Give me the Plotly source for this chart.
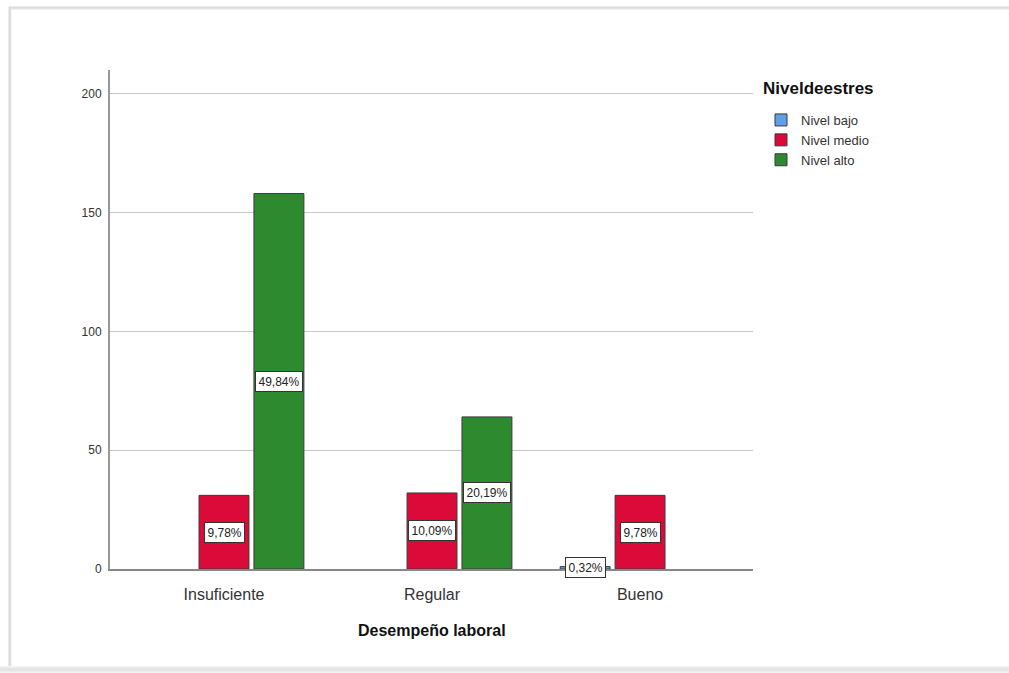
import plotly.graph_objects as go

categories = ["Insuficiente", "Regular", "Bueno"]
series_names = ["Nivel bajo", "Nivel medio", "Nivel alto"]
counts = {
    "Nivel bajo": [0, 0, 1],
    "Nivel medio": [31, 32, 31],
    "Nivel alto": [158, 64, 0],
}
pct_labels = {
    "Nivel bajo": ["", "", "0,32%"],
    "Nivel medio": ["9,78%", "10,09%", "9,78%"],
    "Nivel alto": ["49,84%", "20,19%", ""],
}
colors = {"Nivel bajo": "#5e9fe6", "Nivel medio": "#db0a38", "Nivel alto": "#2e8a2e"}
y_ticks = [0, 50, 100, 150, 200]

W, H = 1009, 673
ML, MR, MT, MB = 110, 256, 70, 104
PW, PH = W - ML - MR, H - MT - MB

offsets = [-0.264, 0.0, 0.264]
bar_w = 0.24

fig = go.Figure()
annotations = []
for si, name in enumerate(series_names):
    xs = [i + offsets[si] for i in range(len(categories))]
    ys = [v if v else None for v in counts[name]]
    fig.add_trace(go.Bar(
        x=xs, y=ys, width=bar_w, name=name,
        marker=dict(color=colors[name], line=dict(color="#3a3a3a", width=1)),
        hoverinfo="skip",
    ))
    for x, v, lab in zip(xs, counts[name], pct_labels[name]):
        if lab:
            annotations.append(dict(
                x=x, y=v / 2, xref="x", yref="y", text=lab, showarrow=False,
                font=dict(family="Liberation Sans, Arial", size=12, color="#222"),
                bgcolor="white", bordercolor="#333", borderwidth=1, borderpad=2.5,
            ))


def px2x(px):
    return (px - ML) / PW


def py2y(py):
    return (H - MB - py) / PH


# x-axis title
annotations.append(dict(
    x=0.5, y=py2y(630), xref="paper", yref="paper", yanchor="middle", showarrow=False,
    text="<b>Desempeño laboral</b>",
    font=dict(family="Liberation Sans, Arial", size=16, color="#111"),
))
# legend title
annotations.append(dict(
    x=px2x(761), y=py2y(88), xref="paper", yref="paper", xanchor="left", yanchor="middle",
    showarrow=False, text="<b>Niveldeestres</b>",
    font=dict(family="Liberation Sans, Arial", size=17, color="#111"),
))

shapes = []
# image frame with shadow
for i, c in enumerate(["#d8d8d8", "#c8c8c8", "#e4e4e4"]):
    shapes.append(dict(type="line", xref="paper", yref="paper",
                       x0=px2x(9 + i), x1=px2x(9 + i), y0=py2y(7), y1=py2y(667),
                       line=dict(color=c, width=1)))
    shapes.append(dict(type="line", xref="paper", yref="paper",
                       x0=px2x(9), x1=px2x(1009), y0=py2y(7 + i), y1=py2y(7 + i),
                       line=dict(color=c, width=1)))
for i, c in enumerate(["#f4f4f4", "#ececec", "#e6e6e6", "#e2e2e2", "#e6e6e6", "#ececec", "#f2f2f2"]):
    shapes.append(dict(type="line", xref="paper", yref="paper",
                       x0=px2x(0), x1=px2x(1009), y0=py2y(666.5 + i), y1=py2y(666.5 + i),
                       line=dict(color=c, width=1)))

fig.update_layout(
    width=W, height=H,
    margin=dict(l=ML, r=MR, t=MT, b=MB),
    paper_bgcolor="white", plot_bgcolor="white",
    barmode="overlay",
    font=dict(family="Liberation Sans, Arial", color="#333"),
    xaxis=dict(
        range=[-0.548, 2.543], tickmode="array", tickvals=list(range(len(categories))),
        ticktext=categories, showgrid=False, zeroline=False,
        showline=True, linecolor="#888", linewidth=1.5,
        ticks="", tickfont=dict(size=16, color="#333"), ticklabelstandoff=10,
    ),
    yaxis=dict(
        range=[0, 210], tickvals=y_ticks, showgrid=True, gridcolor="#c8c8c8", gridwidth=1,
        zeroline=False, showline=True, linecolor="#999", linewidth=2,
        ticks="", tickfont=dict(size=12, color="#333"), ticklabelstandoff=4,
    ),
    legend=dict(
        x=px2x(761), y=py2y(105), xanchor="left", yanchor="top",
        font=dict(size=13, color="#333"), itemwidth=30, tracegroupgap=0,
        bgcolor="rgba(0,0,0,0)",
    ),
    annotations=annotations,
    shapes=shapes,
    showlegend=True,
)

fig.write_html("out.html")
